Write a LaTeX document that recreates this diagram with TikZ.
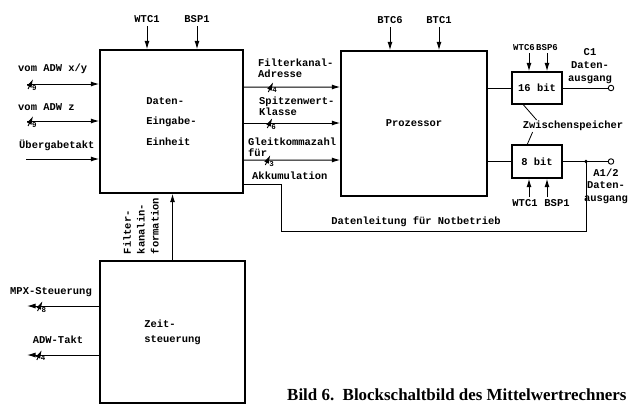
\documentclass[tikz,border=0pt]{standalone}
\usepackage{fontspec}
\setmonofont{Liberation Mono}
\newfontfamily\capfont{Liberation Serif}
\usetikzlibrary{arrows.meta}

\begin{document}
\begin{tikzpicture}[x=1bp, y=-1bp,
    txt/.style={font=\ttfamily\bfseries\fontsize{10.5}{11.5}\selectfont, inner sep=1bp},
    lbl/.style={txt, align=left},
    blk/.style={draw, line width=1.4bp, inner sep=0pt, txt, align=left},
    reg/.style={blk, minimum width=50bp, minimum height=32bp},
    arr/.style={->, >={Latex[length=8.5bp,width=5bp]}, line width=1bp},
    wire/.style={line width=1bp},
    port/.style={circle, draw, line width=0.9bp, fill=white, inner sep=0pt, minimum size=5.5bp},
    pics/bus/.style={code={
      \draw[line width=0.9bp] (-2.5,5) -- (2.5,-5);
      \node[font=\ttfamily\bfseries\fontsize{7.5}{7.5}\selectfont, anchor=north west, inner sep=0pt] at (1,0.5) {#1};
    }}
  ]
  \useasboundingbox (0,0) rectangle (642,405);

  % Blocks
  \node[blk, minimum width=143bp, minimum height=143bp,
        font=\ttfamily\bfseries\fontsize{10.5}{21}\selectfont] (eingabe) at (171.5,121.5) {Daten-\\Eingabe-\\Einheit};
  \node[blk, minimum width=146bp, minimum height=145bp] (prozessor) at (414,123.5) {Prozessor};
  \node[blk, minimum width=145bp, minimum height=142bp,
        font=\ttfamily\bfseries\fontsize{10.5}{15}\selectfont] (zeit) at (172.5,332) {Zeit-\\steuerung};
  \node[reg] (reg16) at (537,88) {16 bit};
  \node[reg, minimum height=33bp] (reg8) at (537,161.5) {8 bit};
  \node[port] (out16) at (611,88) {};
  \node[port] (out8) at (611,161.5) {};

  % Free ends
  \coordinate (inXY)   at (27,84);
  \coordinate (inZ)    at (27,121);
  \coordinate (inTakt) at (26,159);
  \coordinate (mpx)    at (27,306);
  \coordinate (adw)    at (27,355);
  \coordinate (wtcA)   at (147,26);
  \coordinate (bspA)   at (197,26);
  \coordinate (btcF)   at (390,27);
  \coordinate (btcA)   at (439,27);
  \coordinate (wtcF)   at (529,53);
  \coordinate (bspF)   at (547,53);
  \coordinate (wtcB)   at (529,197);
  \coordinate (bspB)   at (547,197);
  \coordinate (nbKnick) at (281,231);
  \coordinate (junc)   at (586,161.5);

  % Inputs
  \draw[arr] (inXY) -- pic[pos=.05]{bus=9} (inXY -| eingabe.west);
  \draw[arr] (inZ) -- pic[pos=.05]{bus=9} (inZ -| eingabe.west);
  \draw[arr] (inTakt) -- (inTakt -| eingabe.west);
  \node[lbl, anchor=west] (lXY) at (17,69) {vom ADW x/y};
  \node[lbl, anchor=west] (lZ) at (17,107) {vom ADW z};
  \node[lbl, anchor=west] (lTakt) at (18,145) {Übergabetakt};

  % Control lines
  \draw[arr] (wtcA) node[txt, above=2bp] (tWTCa) {WTC1} -- (wtcA |- eingabe.north);
  \draw[arr] (bspA) node[txt, above=2bp] (tBSPa) {BSP1} -- (bspA |- eingabe.north);
  \draw[arr] (btcF) node[txt, above=2bp] (tBTCf) {BTC6} -- (btcF |- prozessor.north);
  \draw[arr] (btcA) node[txt, above=2bp] (tBTCa) {BTC1} -- (btcA |- prozessor.north);
  \draw[arr] (wtcF) node[txt, above=1bp, xshift=-5bp, font=\ttfamily\bfseries\fontsize{9}{9}\selectfont] (tWTCf) {WTC6} -- (wtcF |- reg16.north);
  \draw[arr] (bspF) node[txt, above=1bp, font=\ttfamily\bfseries\fontsize{9}{9}\selectfont] (tBSPf) {BSP6} -- (bspF |- reg16.north);
  \draw[arr] (wtcB) node[txt, below=1bp, xshift=-4bp] (tWTCb) {WTC1} -- (wtcB |- reg8.south);
  \draw[arr] (bspB) node[txt, below=1bp, xshift=10bp] (tBSPb) {BSP1} -- (bspB |- reg8.south);

  % Data paths
  \draw[arr] ([yshift=34.5bp]eingabe.east) -- pic[pos=.28]{bus=4} ([yshift=36.5bp]prozessor.west);
  \draw[arr] ([yshift=-1.5bp]eingabe.east) -- pic[pos=.27]{bus=6} ([yshift=0.5bp]prozessor.west);
  \draw[arr] ([yshift=-38.5bp]eingabe.east) -- pic[pos=.25]{bus=3} ([yshift=-36.5bp]prozessor.west);
  \node[lbl, anchor=west] (lAdr) at (257,68) {Filterkanal-\\Adresse};
  \node[lbl, anchor=west] (lKl) at (258,106) {Spitzenwert-\\Klasse};
  \node[lbl, anchor=west] (lGk) at (247,147) {Gleitkommazahl\\für};
  \node[lbl, anchor=west] (lAkk) at (251,176) {Akkumulation};

  \draw[wire] (reg16.west -| prozessor.east) -- (reg16.west);
  \draw[wire] (reg8.west -| prozessor.east) -- (reg8.west);
  \draw[wire] (reg16.east) -- (out16.west);
  \draw[wire] (reg8.east) -- (out8.west);
  \node[lbl, align=center, font=\ttfamily\bfseries\fontsize{10.5}{13}\selectfont] (lC1) at (590,66) {C1\\Daten-\\ausgang};
  \node[lbl, align=center, font=\ttfamily\bfseries\fontsize{10.5}{12.5}\selectfont] (lA12) at (606,186) {A1/2\\Daten-\\ausgang};

  % Notbetrieb
  \draw[wire] ([yshift=-62.5bp]eingabe.east) -| (nbKnick) -| (junc);
  \fill (junc) circle (1.9);
  \node[lbl] (lNot) at (416,222) {Datenleitung für Notbetrieb};

  % Zwischenspeicher
  \node[lbl] (zwsp) at (573,126) {Zwischenspeicher};
  \draw[line width=0.8bp] ([xshift=12bp]reg16.south west) -- ([xshift=15bp]zwsp.north west);
  \draw[line width=0.8bp] ([xshift=16bp]reg8.north west) -- ([xshift=11bp]zwsp.south west);

  % Zeitsteuerung
  \draw[arr] (zeit.north) -- (zeit.north |- eingabe.south);
  \node[lbl, rotate=90, font=\ttfamily\bfseries\fontsize{10.5}{14}\selectfont] (lFilter) at (141,226) {Filter-\\kanalin-\\formation};
  \draw[arr] (mpx -| zeit.west) -- pic[pos=.82]{bus=8} (mpx);
  \draw[arr] (adw -| zeit.west) -- pic[pos=.83]{bus=4} (adw);
  \node[lbl, anchor=west] (lMpx) at (9,292) {MPX-Steuerung};
  \node[lbl] (lAdw) at (58,340) {ADW-Takt};

  % Caption
  \node[font=\capfont\bfseries\fontsize{17}{17}\selectfont, anchor=base west, inner sep=0pt] (caption) at (287,400.5) {Bild 6.\ \ Blockschaltbild des Mittelwertrechners};
\end{tikzpicture}
\end{document}
